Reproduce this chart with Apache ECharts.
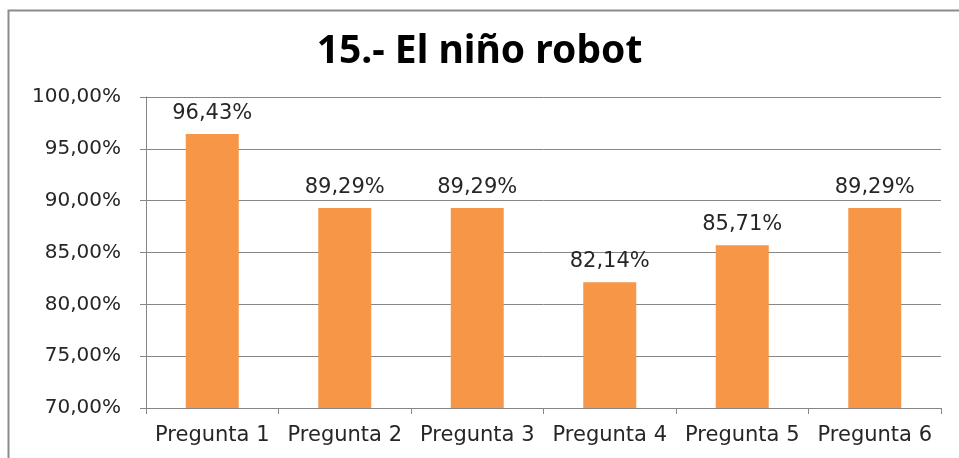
<!DOCTYPE html>
<html>
<head>
<meta charset="utf-8">
<script src="https://cdn.jsdelivr.net/npm/echarts@6/dist/echarts.min.js"></script>
<style>
html,body{margin:0;padding:0;background:#fff;}
#c{width:959px;height:458px;}
</style>
</head>
<body>
<div id="c"></div>
<script>
var categories = ['Pregunta 1','Pregunta 2','Pregunta 3','Pregunta 4','Pregunta 5','Pregunta 6'];
var values = [96.43, 89.29, 89.29, 82.14, 85.71, 89.29];
var titleText = '15.- El niño robot';

function fmt(v){ return v.toFixed(2).replace('.', ',') + '%'; }

var chart = echarts.init(document.getElementById('c'));
chart.setOption({
  animation: false,
  title: {
    text: titleText,
    left: 'center',
    top: 27,
    textStyle: {fontFamily: '"Noto Sans",sans-serif', fontWeight: 'bold', fontSize: 39, color: '#000'}
  },
  graphic: [{
    type: 'rect', left: 6, top: 8, z: 100,
    shape: {x: 0, y: 0, width: 1000, height: 500},
    style: {fill: 'none', stroke: '#8c8c8c', lineWidth: 2}
  }],
  grid: {left: 146, right: 18, top: 97, bottom: 50, containLabel: false},
  xAxis: {
    type: 'category',
    data: categories,
    axisLine: {lineStyle: {color: '#868686', width: 1}},
    axisTick: {show: true, alignWithLabel: false, length: 6, lineStyle: {color: '#868686'}},
    axisLabel: {color: '#262626', fontSize: 21, fontFamily: '"DejaVu Sans",sans-serif', margin: 17, interval: 0}
  },
  yAxis: {
    type: 'value',
    min: 70, max: 100, interval: 5,
    axisLine: {show: true, lineStyle: {color: '#868686', width: 1}},
    axisTick: {show: true, length: 6, lineStyle: {color: '#868686'}},
    splitLine: {lineStyle: {color: '#868686', width: 1}},
    axisLabel: {color: '#262626', fontSize: 20, fontFamily: '"DejaVu Sans",sans-serif', margin: 25, formatter: function(v){return fmt(v);}}
  },
  series: [{
    type: 'bar',
    data: values,
    barWidth: '40%',
    itemStyle: {color: '#F79646'},
    label: {show: true, position: 'top', distance: 10, color: '#262626', fontSize: 21, fontFamily: '"DejaVu Sans",sans-serif', formatter: function(p){return fmt(p.value);}}
  }]
});
</script>
</body>
</html>
